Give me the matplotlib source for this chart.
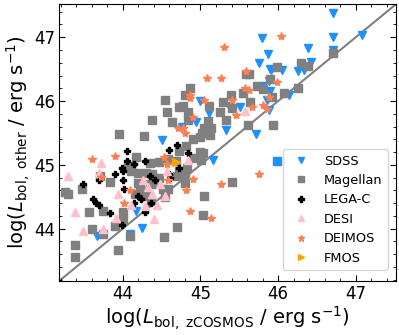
import matplotlib
matplotlib.use("Agg")
import matplotlib.pyplot as plt
from matplotlib.ticker import MultipleLocator

# ---- data ----
sdss_x = [46.70, 45.79, 46.71, 47.08, 46.38, 46.71, 45.87, 45.75, 46.42, 45.89, 45.91, 46.05, 46.26,
          46.33, 45.88, 45.81, 45.89, 46.14, 45.86, 45.37, 45.51, 45.88, 45.11, 45.07, 45.33, 45.72,
          45.16, 45.00, 44.94, 44.76, 44.50, 44.98, 44.13, 43.67, 44.09, 44.17, 44.25, 44.54]
sdss_y = [47.38, 46.99, 47.00, 47.04, 46.83, 46.80, 46.73, 46.60, 46.61, 46.50, 46.49, 46.49, 46.47,
          46.49, 46.32, 46.23, 46.15, 46.09, 46.01, 45.92, 45.91, 45.86, 45.82, 45.56, 45.54, 45.48,
          45.07, 46.00, 45.67, 45.60, 45.39, 45.07, 44.97, 43.88, 43.91, 44.27, 44.01, 44.58]

sdss_sq_x = [45.98]
sdss_sq_y = [45.06]

mag_x = [46.70, 46.30, 46.38, 45.98, 45.59, 45.63, 45.89, 45.73, 45.80, 46.07, 46.26, 45.55, 45.39,
         45.92, 45.29, 45.64, 45.11, 45.41, 45.25, 45.33, 45.10, 45.61, 45.93, 45.02, 45.04, 45.14,
         45.12, 45.03, 45.01, 44.86, 44.80, 44.55, 44.57, 44.72, 44.77, 44.84, 44.38, 44.64, 44.84,
         45.00, 44.91, 44.81, 44.72, 44.99, 44.89, 44.58, 44.35, 44.83, 43.95, 44.27, 44.17, 44.07,
         44.47, 44.10, 44.20, 43.84, 43.71, 43.48, 43.26, 43.29, 44.20, 44.28, 44.31, 44.16, 43.56,
         43.74, 44.00, 44.00, 43.90, 43.60, 43.75, 44.09, 43.39, 43.39, 43.94, 44.53, 44.70, 45.03,
         45.04, 45.41, 44.70, 44.38, 44.42, 44.35, 44.30, 44.47, 44.44, 44.26, 44.37, 44.52, 44.58,
         44.73, 44.80, 44.80, 44.55, 44.22, 44.69]
mag_y = [46.76, 46.59, 46.55, 46.54, 46.43, 46.43, 46.35, 46.24, 46.19, 46.13, 46.21, 46.12, 46.09,
         46.07, 45.98, 45.98, 45.93, 45.89, 45.83, 45.70, 45.69, 45.63, 45.63, 45.50, 45.57, 45.57,
         45.47, 45.19, 45.08, 46.21, 46.09, 46.01, 45.83, 45.90, 45.93, 45.83, 45.70, 45.67, 45.71,
         45.43, 45.40, 45.29, 45.21, 45.20, 45.11, 45.10, 45.03, 44.95, 45.48, 45.45, 45.12, 44.98,
         45.04, 44.90, 44.88, 44.73, 44.82, 44.62, 44.57, 44.55, 44.72, 44.59, 44.54, 44.54, 44.26,
         44.27, 44.26, 44.15, 44.05, 44.00, 43.91, 43.88, 43.75, 43.56, 43.66, 43.87, 44.03, 44.21,
         44.52, 44.73, 44.82, 44.85, 44.80, 44.70, 44.88, 44.80, 44.70, 44.52, 44.44, 44.62, 44.62,
         44.90, 44.82, 44.72, 44.50, 44.62, 45.06]

lega_x = [44.06, 44.06, 44.15, 44.29, 43.99, 44.59, 44.70, 44.84, 43.90, 43.49, 43.70, 44.00, 44.00,
          44.02, 43.62, 43.66, 43.69, 43.83, 44.15, 44.20, 44.24, 44.37, 44.28, 43.99, 44.35, 44.42,
          44.59, 44.61, 44.73]
lega_y = [45.21, 45.06, 45.02, 45.06, 44.95, 45.23, 45.31, 45.19, 44.85, 44.70, 44.76, 44.90, 44.77,
          44.63, 44.46, 44.41, 44.37, 44.24, 44.40, 44.51, 44.46, 44.40, 44.26, 44.06, 44.82, 44.77,
          44.85, 44.80, 44.95]

desi_x = [43.72, 43.70, 44.84, 45.58, 43.29, 43.94, 43.39, 43.49, 43.75, 43.91, 44.26, 44.32, 44.38,
          44.40, 44.28, 44.48, 44.10, 44.44, 44.54, 44.57]
desi_y = [45.03, 44.88, 45.07, 45.85, 44.82, 44.54, 44.26, 43.97, 43.99, 44.17, 44.77, 44.65, 44.55,
          44.15, 44.36, 44.70, 44.37, 44.37, 44.52, 44.90]

deimos_x = [46.04, 45.30, 45.09, 45.27, 45.59, 45.98, 45.58, 45.63, 45.41, 45.04, 45.81, 45.86, 45.67,
            45.46, 45.88, 44.87, 44.86, 44.91, 44.71, 44.77, 44.80, 43.61, 43.90, 44.53, 44.57, 43.72,
            44.02, 44.09, 44.58, 44.81, 44.87, 44.91, 45.26, 45.13, 45.75]
deimos_y = [47.02, 46.85, 46.36, 46.36, 46.47, 46.30, 46.21, 46.18, 46.01, 46.01, 45.94, 45.87, 45.91,
            45.78, 46.06, 46.10, 46.05, 45.75, 45.57, 45.57, 45.50, 45.09, 45.14, 45.13, 45.01, 44.81,
            44.40, 44.60, 44.77, 44.60, 44.28, 44.78, 44.70, 44.17, 44.85]

fmos_x = [44.69]
fmos_y = [45.05]

lims = [43.18, 47.52]
labels = ["SDSS", "Magellan", "LEGA-C", "DESI", "DEIMOS", "FMOS"]

# ---- figure ----
fig = plt.figure(figsize=(3.99, 3.35), dpi=100)
ax = fig.add_axes([0.148, 0.161, 0.845, 0.827])

ax.plot(sdss_x, sdss_y, "v", color="#1E90FF", ms=6, ls="none", label=labels[0])
ax.plot(sdss_sq_x, sdss_sq_y, "s", color="#1E90FF", ms=5.5, ls="none")
ax.plot(mag_x, mag_y, "s", color="gray", ms=5.5, ls="none", label=labels[1])
ax.plot(lega_x, lega_y, "P", color="black", ms=5, ls="none", label=labels[2])
ax.plot(desi_x, desi_y, "^", color="pink", ms=6, ls="none", label=labels[3])
ax.plot(deimos_x, deimos_y, "*", color="coral", ms=6, ls="none", label=labels[4])
ax.plot(fmos_x, fmos_y, ">", color="orange", ms=6, ls="none", label=labels[5])

ax.plot(lims, lims, color="gray", lw=1.5, zorder=0.5)

ax.set_xlim(lims)
ax.set_ylim(lims)
ax.xaxis.set_major_locator(MultipleLocator(1))
ax.yaxis.set_major_locator(MultipleLocator(1))
ax.xaxis.set_minor_locator(MultipleLocator(0.2))
ax.yaxis.set_minor_locator(MultipleLocator(0.2))
ax.tick_params(which="both", direction="in", top=True, right=True, labelsize=12, pad=2.5)
ax.tick_params(which="major", length=4.5)
ax.tick_params(which="minor", length=2.5)

ax.set_xlabel(r"log($L_{\rm bol,\ zCOSMOS}$ / erg s$^{-1}$)", fontsize=14, labelpad=1)
ax.set_ylabel(r"log($L_{\rm bol,\ other}$ / erg s$^{-1}$)", fontsize=14, labelpad=2)

ax.legend(loc="lower right", bbox_to_anchor=(0.975, 0.04), borderaxespad=0,
          fontsize=9.3, markerscale=0.8)

fig.savefig("out.png", dpi=100)
